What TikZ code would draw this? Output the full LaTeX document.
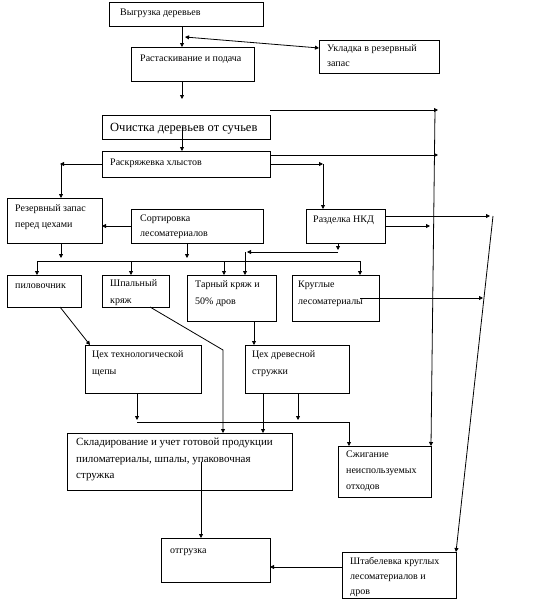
\documentclass[tikz,border=0pt]{standalone}
\usepackage{fontspec}
\setmainfont{Liberation Serif}
\usetikzlibrary{arrows.meta}
\newcommand{\mybox}[5]{\node[box, minimum width={(#4-#2)*1pt}, minimum height={(#5-#3)*1pt}] (#1) at ({(#2+#4)/2},{(#3+#5)/2}) {};}
\newcommand{\mytext}[5][]{\node[txt,#1] (#2) at (#3,#4) {#5};}
\tikzset{
  box/.style={draw, line width=1pt, inner sep=0pt, outer sep=0pt},
  txt/.style={anchor=base west, inner sep=0pt, font=\fontsize{10}{12}\selectfont},
  big/.style={font=\fontsize{12.5}{14}\selectfont},
  mid/.style={font=\fontsize{11}{13}\selectfont},
  arr/.style={line width=0.8pt, -{Triangle[length=4pt,width=4pt]}},
  arrb/.style={line width=0.8pt, {Triangle[length=4pt,width=4pt]}-{Triangle[length=4pt,width=4pt]}},
  ln/.style={line width=0.8pt}
}
\begin{document}
\begin{tikzpicture}[x=1pt,y=-1pt]
\useasboundingbox (0,0) rectangle (533,605);
\fill[white] (0,0) rectangle (533,605);
% boxes
\mybox{b1}{109}{2}{263}{26}
\mybox{b2}{131}{47}{254}{81}
\mybox{b3}{319}{40}{439}{73}
\mybox{b4}{102}{115}{270}{139}
\mybox{b5}{102}{151}{270}{177}
\mybox{b6}{7}{198}{102}{243}
\mybox{b7}{131}{209}{263}{243}
\mybox{b8}{306}{209}{385}{243}
\mybox{b9}{7}{275}{81}{307}
\mybox{b10}{102}{275}{169}{307}
\mybox{b11}{187}{275}{276}{321}
\mybox{b12}{292}{275}{379}{321}
\mybox{b13}{85}{345}{201}{393}
\mybox{b14}{245}{345}{349}{393}
\mybox{b15}{67}{433}{292}{490}
\mybox{b16}{338}{446}{431}{497}
\mybox{b17}{161}{538}{270}{582}
\mybox{b18}{342}{552}{456}{598}
% texts
\mytext{t1}{120}{16}{Выгрузка деревьев}
\mytext{t2}{140}{61}{Растаскивание и подача}
\mytext{t3a}{327}{51}{Укладка в резервный}
\mytext{t3b}{327}{66}{запас}
\mytext[big]{t4}{110}{131}{Очистка деревьев от сучьев}
\mytext{t5}{110}{165}{Раскряжевка хлыстов}
\mytext{t6a}{15}{211}{Резервный запас}
\mytext{t6b}{15}{227}{перед цехами}
\mytext{t7a}{140}{221}{Сортировка}
\mytext{t7b}{140}{236}{лесоматериалов}
\mytext{t8}{313}{222}{Разделка НКД}
\mytext{t9}{15}{288}{пиловочник}
\mytext{t10a}{110}{286}{Шпальный}
\mytext{t10b}{110}{303}{кряж}
\mytext{t11a}{195}{287}{Тарный кряж и}
\mytext{t11b}{195}{304}{50\% дров}
\mytext{t12a}{298}{287}{Круглые}
\mytext{t12b}{298}{304}{лесоматериалы}
\mytext{t13a}{92}{357}{Цех технологической}
\mytext{t13b}{92}{374}{щепы}
\mytext{t14a}{252}{357}{Цех древесной}
\mytext{t14b}{252}{374}{стружки}
\mytext[mid]{t15a}{76}{445}{Складирование и учет готовой продукции}
\mytext[mid]{t15b}{76}{462}{пиломатериалы, шпалы, упаковочная}
\mytext[mid]{t15c}{76}{478}{стружка}
\mytext{t16a}{346}{457}{Сжигание}
\mytext{t16b}{346}{473}{неиспользуемых}
\mytext{t16c}{346}{489}{отходов}
\mytext{t17}{170}{553}{отгрузка}
\mytext{t18a}{350}{564}{Штабелевка круглых}
\mytext{t18b}{350}{579}{лесоматериалов и}
\mytext{t18c}{350}{594}{дров}
% free coordinates
\coordinate (j1) at (185,37);
\coordinate (j2) at (182,99);
\coordinate (j3) at (438,110);
\coordinate (j4) at (435,110);
\coordinate (j5) at (323,164);
\coordinate (j6) at (60,164);
\coordinate (j7) at (438,155);
\coordinate (bus1a) at (37,261);
\coordinate (bus1b) at (360,261);
\coordinate (k1) at (338,252);
\coordinate (k2) at (245,252);
\coordinate (j8) at (490,216);
\coordinate (j9) at (493,216);
\coordinate (j10) at (430,226);
\coordinate (j11) at (483,298);
\coordinate (j12) at (223,350);
\coordinate (bus2a) at (137,422);
\coordinate (bus2b) at (349,422);
% connectors
\draw[arr] (b1.south -| 182,0) -- (b2.north -| 182,0);
\draw[arrb] (j1) -- (b3.west |- 0,48);
\draw[arr] (b2.south -| 182,0) -- (j2);
\draw[arr] (b4.east |- j3) -- (j3);
\draw[arr] (j4) -- (b16.north east);
\draw[arr] (b4.center -| 182,0) -- (b5.north -| 182,0);
\draw[arr] (b5.east |- j7) -- (j7);
\draw[arr] (b5.east |- j5) -- (j5);
\draw[arr] (j5) -- (b8.north -| j5);
\draw[arr] (b5.west |- j6) -- (j6);
\draw[arr] (61,164) -- (b6.north -| 61,0);
\draw[arr] (b7.west) -- (b6.east |- b7.west);
\draw[arr] (b6.south -| 61,0) -- (61,258);
\draw[arr] (b7.south -| 187,0) -- (187,258);
\draw[ln] (bus1a) -- (bus1b);
\draw[arr] (bus1a) -- (b9.north -| bus1a);
\draw[arr] (131,261) -- (b10.north -| 131,0);
\draw[arr] (224,261) -- (b11.north -| 224,0);
\draw[arr] (bus1b) -- (b12.north -| bus1b);
\draw[arr] (b8.south -| k1) -- (338,250);
\draw[arr] (k1) -- (247,252);
\draw[arr] (k2) -- (b11.north -| k2);
\draw[arr] (b8.east |- j8) -- (j8);
\draw[arr] (j9) -- (b18.north east);
\draw[arr] (b8.east |- j10) -- (j10);
\draw[arr] (b12.center -| 360,0) -- (j11);
\draw[arr] (b9.south -| 60,0) -- (b13.north -| 90,0);
\draw[arr] (b10.south -| 150,0) -- (j12) -- (b15.north -| j12);
\draw[arr] (b11.south -| 254,0) -- (b14.north -| 254,0);
\draw[arr] (b13.south -| bus2a) -- (137,420);
\draw[arr] (b14.south -| 298,0) -- (298,420);
\draw[arr] (bus2a) -- (bus2b) -- (b16.north -| bus2b);
\draw[arr] (b14.south -| 263,0) -- (b15.north -| 263,0);
\draw[arr] (b15.center -| 201,482) -- (b17.north -| 201,0);
\draw[arr] (b18.west |- 0,567) -- (b17.east |- 0,567);
\end{tikzpicture}
\end{document}
